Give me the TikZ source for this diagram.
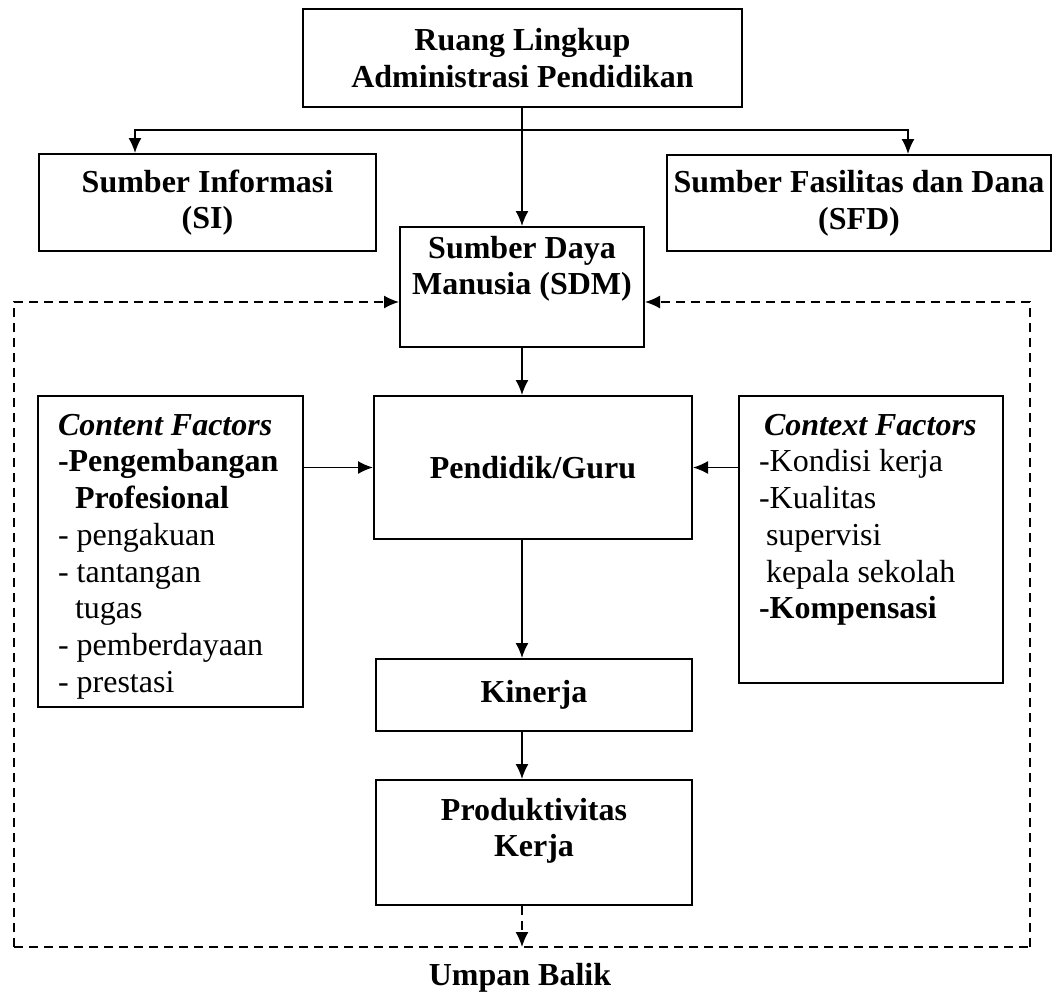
\documentclass[tikz,border=0pt]{standalone}
\usepackage{fontspec}
\setmainfont{Liberation Serif}
\usetikzlibrary{arrows.meta}
\newcommand{\hurufbesar}{\fontsize{32}{36.7}\selectfont}

\begin{document}
\begin{tikzpicture}[x=1pt,y=-1pt,
	kotak/.style={draw,line width=2pt,inner sep=0pt,align=center,font=\hurufbesar\bfseries},
	faktor/.style={draw,line width=2pt,inner xsep=20pt,inner ysep=18pt,font=\hurufbesar},
	panah/.style={line width=1.6pt,-{Latex[length=15pt,width=13pt]}},
	putus/.style={line width=1.6pt,dash pattern=on 9pt off 6pt}]
	\useasboundingbox (0,0) rectangle (1059,994);
	% kotak-kotak
	\node[kotak,minimum width=439pt,minimum height=98pt] (ruang) at (522.5,58) {Ruang Lingkup\\Administrasi Pendidikan};
	\node[kotak,minimum width=337pt,minimum height=97pt] (si) at (207.5,202.5) {Sumber Informasi\\(SI)};
	\node[kotak,minimum width=384pt,minimum height=96pt] (sfd) at (859,203) {Sumber Fasilitas dan Dana\\(SFD)};
	\node[kotak] (sdm) at (522,287) {\parbox[c][120pt][t]{244pt}{\centering\vspace*{9pt}Sumber Daya\\Manusia (SDM)}};
	\node[kotak,minimum width=318pt,minimum height=143pt] (guru) at (533,467.5) {Pendidik/Guru};
	\node[kotak,minimum width=316pt,minimum height=72pt] (kinerja) at (534,695) {Kinerja};
	\node[kotak] (produk) at (534,842.5) {\parbox[c][125pt][t]{316pt}{\centering\vspace*{18pt}Produktivitas\\Kerja}};
	\node[faktor] (konten) at (170.5,551.5) {\parbox[c][275pt][t]{225pt}{\raggedright
		\textbf{\textit{Content Factors}}\\
		\textbf{-Pengembangan}\\
		\hspace*{17pt}\textbf{Profesional}\\
		- pengakuan\\
		- tantangan\\
		\hspace*{17pt}tugas\\
		- pemberdayaan\\
		- prestasi}};
	\node[faktor] (konteks) at (871,539.5) {\parbox[c][251pt][t]{224pt}{\raggedright
		\hspace*{5pt}\textbf{\textit{Context Factors}}\\
		-Kondisi kerja\\
		-Kualitas\\
		\hspace*{7pt}supervisi\\
		\hspace*{7pt}kepala sekolah\\
		\textbf{-Kompensasi}}};
	\node[font=\hurufbesar\bfseries] (umpan) at (520,978) {Umpan Balik};
	% panah
	\coordinate (cabang) at (522,130);
	\coordinate (cabangkiri) at (135,130);
	\coordinate (cabangkanan) at (908,130);
	\draw[panah] (ruang.south -| sdm) -- (sdm.north);
	\draw[panah] (cabang) -- (cabangkiri) -- (cabangkiri |- si.north);
	\draw[panah] (cabang) -- (cabangkanan) -- (cabangkanan |- sfd.north);
	\draw[panah] (sdm.south) -- (sdm |- guru.north);
	\draw[panah] (sdm |- guru.south) -- (sdm |- kinerja.north);
	\draw[panah] (sdm |- kinerja.south) -- (sdm |- produk.north);
	\draw[panah] (guru.west -| konten.east) -- (guru.west);
	\draw[panah] (guru.east -| konteks.west) -- (guru.east);
	% umpan balik
	\coordinate (bawahkiri) at (14,947);
	\coordinate (bawahkanan) at (1030,947);
	\draw[putus] (bawahkiri) -- (bawahkanan);
	\draw[putus,panah] (bawahkiri) |- ([yshift=-15pt]sdm.west);
	\draw[putus,panah] (bawahkanan) |- ([yshift=-15pt]sdm.east);
	\draw[putus,panah] (sdm |- produk.south) -- (sdm |- bawahkiri);
\end{tikzpicture}
\end{document}
